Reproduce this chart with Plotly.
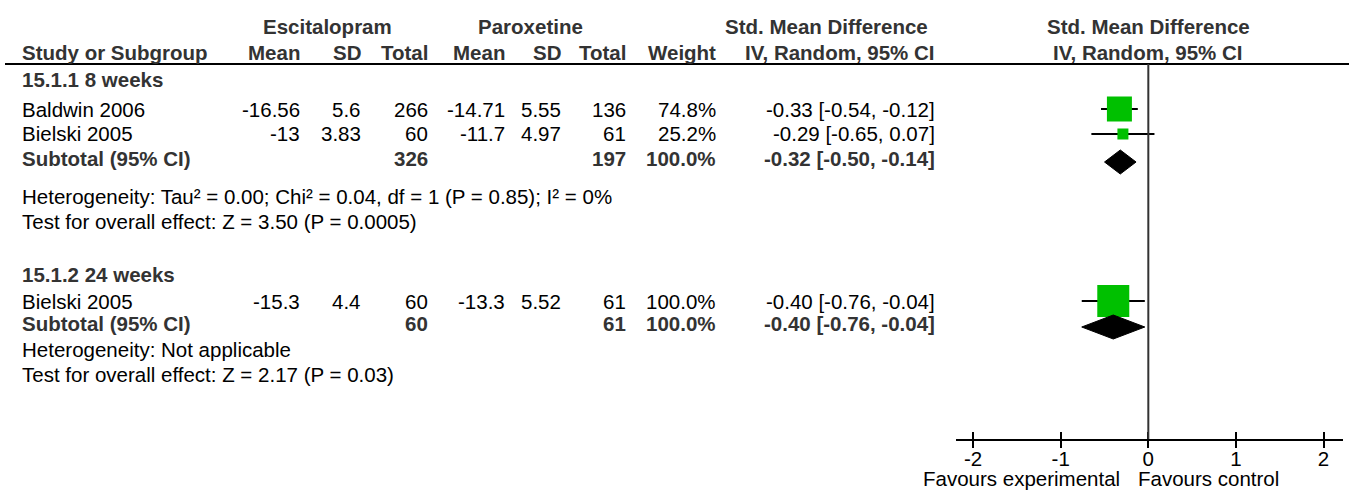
import plotly.graph_objects as go

# ---------------- data ----------------
group_titles = ["15.1.1 8 weeks", "15.1.2 24 weeks"]
study_names = ["Baldwin 2006", "Bielski 2005", "Bielski 2005"]
study_group = [0, 0, 1]
esc_mean = [-16.56, -13, -15.3]
esc_sd = [5.6, 3.83, 4.4]
esc_total = [266, 60, 60]
par_mean = [-14.71, -11.7, -13.3]
par_sd = [5.55, 4.97, 5.52]
par_total = [136, 61, 61]
weight = [74.8, 25.2, 100.0]
smd = [-0.33, -0.29, -0.40]
smd_lo = [-0.54, -0.65, -0.76]
smd_hi = [-0.12, 0.07, -0.04]

sub_label = "Subtotal (95% CI)"
sub_esc_total = [326, 60]
sub_par_total = [197, 61]
sub_weight = [100.0, 100.0]
sub_smd = [-0.32, -0.40]
sub_lo = [-0.50, -0.76]
sub_hi = [-0.14, -0.04]

heterogeneity = [
    "Heterogeneity: Tau² = 0.00; Chi² = 0.04, df = 1 (P = 0.85); I² = 0%",
    "Heterogeneity: Not applicable",
]
overall_effect = [
    "Test for overall effect: Z = 3.50 (P = 0.0005)",
    "Test for overall effect: Z = 2.17 (P = 0.03)",
]
x_ticks = [-2, -1, 0, 1, 2]
favours = ["Favours experimental", "Favours control"]

# ---------------- layout / style ----------------
W, H = 1349, 490
FONT = "Liberation Sans, Arial, sans-serif"
FS = 20.5
BOLD_C = "#333333"
REG_C = "#000000"
GREEN = "#00c000"

# row centres (px from top)
HDR1_Y, HDR2_Y, RULE_Y = 27, 53, 64
GROUP_Y = [80, 274]
STUDY_Y = [109, 134, 301]
SUB_Y = [158, 323]
HET_Y = [196, 349]
OVR_Y = [221, 374]
AXIS_Y = 439
FAV_Y = 478
LEFT_X = 20
# right edges of the numeric columns (px)
COL_R = dict(em=302, es=363, et=430, pm=507, ps=563, pt=628, w=718, ci=937)
# square side (px) per study row, diamond half height (px), diamond offset
SQ = [25, 11, 32]
DIA_H = 12
DIA_DY = 4

# forest axis mapping
X_RANGE = [-2.2, 2.22]
X_DOM = [955.6 / W, 1342.8 / W]

fig = go.Figure()
ann = []


def px(x):
    return x / W


def py(y):
    return 1 - y / H


def add_text(text, x, y, anchor="left", bold=False):
    ann.append(dict(
        text=f"<b>{text}</b>" if bold else text,
        x=px(x), y=py(y), xref="paper", yref="paper",
        xanchor=anchor, yanchor="middle", showarrow=False,
        font=dict(family=FONT, size=FS, color=BOLD_C if bold else REG_C),
    ))


def g(v):
    return f"{v:g}"


# headers
add_text("Escitalopram", 327, HDR1_Y, "center", True)
add_text("Paroxetine", 530, HDR1_Y, "center", True)
add_text("Std. Mean Difference", 826, HDR1_Y, "center", True)
add_text("Study or Subgroup", LEFT_X, HDR2_Y, "left", True)
for key, lab in [("em", "Mean"), ("es", "SD"), ("et", "Total"),
                 ("pm", "Mean"), ("ps", "SD"), ("pt", "Total"), ("w", "Weight"),
                 ("ci", "IV, Random, 95% CI")]:
    add_text(lab, COL_R[key], HDR2_Y, "right", True)

# plot headers (centred on zero of forest axis)
for txt, yy in [("Std. Mean Difference", HDR1_Y), ("IV, Random, 95% CI", HDR2_Y)]:
    ann.append(dict(text=f"<b>{txt}</b>", x=0, xref="x", y=py(yy), yref="paper",
                    xanchor="center", yanchor="middle", showarrow=False,
                    font=dict(family=FONT, size=FS, color=BOLD_C)))

# groups
for gi, title in enumerate(group_titles):
    add_text(title, LEFT_X, GROUP_Y[gi], "left", True)

# studies
for i, name in enumerate(study_names):
    y = STUDY_Y[i]
    add_text(name, LEFT_X, y)
    add_text(g(esc_mean[i]), COL_R["em"], y, "right")
    add_text(g(esc_sd[i]), COL_R["es"], y, "right")
    add_text(g(esc_total[i]), COL_R["et"], y, "right")
    add_text(g(par_mean[i]), COL_R["pm"], y, "right")
    add_text(g(par_sd[i]), COL_R["ps"], y, "right")
    add_text(g(par_total[i]), COL_R["pt"], y, "right")
    add_text(f"{weight[i]:.1f}%", COL_R["w"], y, "right")
    add_text(f"{smd[i]:.2f} [{smd_lo[i]:.2f}, {smd_hi[i]:.2f}]", COL_R["ci"], y, "right")
    # CI line
    fig.add_trace(go.Scatter(x=[smd_lo[i], smd_hi[i]], y=[y, y], mode="lines",
                             line=dict(color="black", width=2), hoverinfo="skip"))
    # square
    fig.add_trace(go.Scatter(x=[smd[i]], y=[y], mode="markers",
                             marker=dict(symbol="square", size=SQ[i], color=GREEN,
                                         line=dict(width=0)), hoverinfo="skip"))

# subtotals
for gi in range(len(group_titles)):
    y = SUB_Y[gi]
    add_text(sub_label, LEFT_X, y, "left", True)
    add_text(g(sub_esc_total[gi]), COL_R["et"], y, "right", True)
    add_text(g(sub_par_total[gi]), COL_R["pt"], y, "right", True)
    add_text(f"{sub_weight[gi]:.1f}%", COL_R["w"], y, "right", True)
    add_text(f"{sub_smd[gi]:.2f} [{sub_lo[gi]:.2f}, {sub_hi[gi]:.2f}]", COL_R["ci"], y, "right", True)
    yc = y + DIA_DY
    fig.add_trace(go.Scatter(
        x=[sub_lo[gi], sub_smd[gi], sub_hi[gi], sub_smd[gi], sub_lo[gi]],
        y=[yc, yc - DIA_H, yc, yc + DIA_H, yc],
        mode="lines", fill="toself", fillcolor="black",
        line=dict(color="black", width=1), hoverinfo="skip"))
    add_text(heterogeneity[gi], LEFT_X, HET_Y[gi])
    add_text(overall_effect[gi], LEFT_X, OVR_Y[gi])

# favours labels
ann.append(dict(text=favours[0], x=0, xref="x", y=py(FAV_Y), yref="paper",
                xanchor="right", yanchor="middle", xshift=-26, showarrow=False,
                font=dict(family=FONT, size=FS, color=REG_C)))
ann.append(dict(text=favours[1], x=0, xref="x", y=py(FAV_Y), yref="paper",
                xanchor="left", yanchor="middle", xshift=-12, showarrow=False,
                font=dict(family=FONT, size=FS, color=REG_C)))

shapes = [
    dict(type="line", xref="paper", yref="paper", x0=px(5), x1=1,
         y0=py(RULE_Y), y1=py(RULE_Y), line=dict(color="black", width=2)),
    dict(type="line", xref="x", yref="y", x0=0, x1=0, y0=RULE_Y, y1=AXIS_Y,
         line=dict(color="#333333", width=2)),
]

fig.update_layout(
    width=W, height=H, margin=dict(l=0, r=0, t=0, b=0),
    paper_bgcolor="white", plot_bgcolor="rgba(0,0,0,0)",
    showlegend=False, annotations=ann, shapes=shapes,
    xaxis=dict(domain=X_DOM, range=X_RANGE, anchor="y", showgrid=False, zeroline=False,
               showline=True, linecolor="black", linewidth=2,
               ticks="inside", ticklen=7, tickwidth=2, tickcolor="black",
               ticklabelstandoff=0,
               tickvals=x_ticks, ticktext=[str(t) for t in x_ticks],
               tickfont=dict(family=FONT, size=FS, color=REG_C)),
    xaxis2=dict(domain=X_DOM, range=X_RANGE, anchor="y", overlaying="x", showgrid=False,
                zeroline=False, showline=False, ticks="outside", ticklen=8, tickwidth=2,
                tickcolor="black", tickvals=x_ticks, showticklabels=False),
    yaxis=dict(domain=[py(AXIS_Y), py(RULE_Y)], range=[AXIS_Y, RULE_Y], visible=False,
               showgrid=False, zeroline=False),
)
# invisible trace to activate xaxis2
fig.add_trace(go.Scatter(x=[0], y=[AXIS_Y], xaxis="x2", yaxis="y", mode="markers",
                         marker=dict(opacity=0), hoverinfo="skip"))

fig.write_html("out.html", config={"displayModeBar": False},
               post_script="document.body.style.margin='0';"
               "document.body.style.overflow='hidden';")
